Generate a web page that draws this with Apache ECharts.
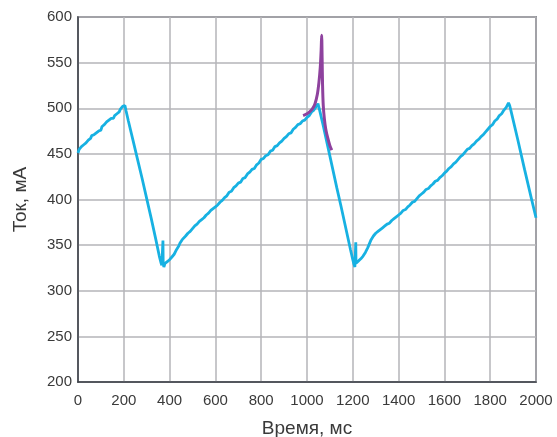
<!DOCTYPE html>
<html><head><meta charset="utf-8">
<script src="https://cdn.jsdelivr.net/npm/echarts@6/dist/echarts.min.js"></script>
<style>html,body{margin:0;padding:0;background:#fff}#c{width:557px;height:437px}</style>
</head><body><div id="c"></div>
<script>
const xTicks = [0,200,400,600,800,1000,1200,1400,1600,1800,2000];
const yTicks = [200,250,300,350,400,450,500,550,600];
// cyan trace: [time ms, current mA]
const cyan = [
[0,451],[5,455],[10,454],[15,458],[20,456],[25,460],[30,459],[35,462],[40,461],[45,465],[50,463],[55,467],[60,470],[65,468],[70,471],[75,470],[80,473],[85,472],[90,475],[95,477],[100,476],[105,480],[110,479],[115,482],[120,481],[125,485],[130,484],[135,487],[140,486],[145,489],[150,490],[155,489],[160,492],[165,491],[170,494],[175,495],[180,496],[185,499],[190,500],[195,502],[200,504],[203,501],[205,503],
[210,497],[220,486],[240,465],[260,444],[280,423],[300,401],[320,379],[340,356],[355,338],[362,331],[366,328],[370,327],[371,355],[372,330],[375,326],
[380,330],[385,328],[390,332],[395,330],[400,334],[405,333],[410,337],[415,336],[420,340],[425,342],[430,345],[435,347],[440,349],[445,352],[450,353],[455,356],[460,357],[470,360],[480,363],[490,365],[500,368],[510,371],[520,373],[530,376],[540,378],[550,380],[560,383],[570,385],[580,388],[590,390],[600,392],
[610,394],[620,397],[630,399],[640,402],[650,404],[660,408],[670,409],[680,413],[690,415],[700,418],[710,419],[720,423],[730,424],[740,428],[750,430],[760,433],[770,434],[780,438],[790,440],[800,444],[810,445],[820,448],[830,449],[840,453],[850,454],[860,458],[870,459],[880,462],[890,464],[900,467],[910,469],[920,472],[930,473],[940,477],[950,479],[960,482],[970,483],[980,486],[990,487],[1000,490],[1010,492],[1020,496],[1030,498],[1040,502],[1048,505],
[1055,498],[1070,482],[1090,459],[1110,436],[1130,413],[1150,391],[1170,368],[1190,345],[1200,334],[1205,329],[1209,326],[1212,328],[1213,353],[1214,330],
[1218,331],[1222,329],[1226,333],[1230,332],[1235,335],[1240,336],[1245,338],[1250,339],[1255,342],[1260,344],[1265,347],[1270,350],[1275,353],[1280,356],[1285,358],[1290,360],[1295,362],[1300,363],[1305,364],[1310,365],[1320,367],[1330,369],[1340,371],[1350,373],[1360,374],[1370,377],[1380,379],[1390,381],[1400,383],[1410,385],[1420,388],[1430,389],[1440,392],[1450,394],[1460,397],[1470,398],[1480,401],[1490,404],[1500,406],[1510,408],[1520,411],[1530,412],[1540,415],[1550,417],
[1560,420],[1570,421],[1580,424],[1590,426],[1600,429],[1610,431],[1620,434],[1630,436],[1640,439],[1650,441],[1660,444],[1670,447],[1680,449],[1690,452],[1700,455],[1710,456],[1720,459],[1730,461],[1740,464],[1750,466],[1760,469],[1770,471],[1780,474],[1790,477],[1800,480],[1810,482],[1820,486],[1830,488],[1840,492],[1850,494],[1860,498],[1870,501],[1880,506],[1885,503],
[1890,498],[1920,466],[1950,433],[1980,401],[2000,380]
];
// purple trace: [time ms, current mA]
const purple = [[983,492],[1000,494],[1015,497],[1025,500],[1035,505],[1045,515],[1052,528],[1058,545],[1062,565],[1064,580],[1066,555],[1068,525],[1071,503],[1076,488],[1082,477],[1090,468],[1100,459],[1108,454]];

const chart = echarts.init(document.getElementById('c'), null, {renderer:'canvas'});
const font = 'Liberation Sans, Arial, sans-serif';
chart.setOption({
  animation:false,
  grid:{left:78,right:21,top:17,bottom:55,containLabel:false,outerBoundsMode:'none',show:true,borderColor:'#3b3f47',borderWidth:1.5,backgroundColor:'transparent'},
  xAxis:{type:'value',min:0,max:2000,interval:200,
    name:'Время, мс',nameLocation:'middle',nameGap:37,
    nameTextStyle:{fontSize:19,color:'#3a3a3a',fontFamily:font},
    axisLine:{show:true,lineStyle:{color:'#3b3f47',width:1.5}},
    axisTick:{show:false},
    axisLabel:{fontSize:15,color:'#3a3a3a',fontFamily:font,margin:11,formatter:v=>String(v)},
    splitLine:{show:true,lineStyle:{color:'#b4b4b8',width:1.5}}},
  yAxis:{type:'value',min:200,max:600,interval:50,
    name:'Ток, мА',nameLocation:'middle',nameGap:48,
    nameTextStyle:{fontSize:19,color:'#3a3a3a',fontFamily:font},
    axisLine:{show:true,lineStyle:{color:'#3b3f47',width:1.5}},
    axisTick:{show:false},
    axisLabel:{fontSize:15,color:'#3a3a3a',fontFamily:font,margin:6,formatter:v=>String(v)},
    splitLine:{show:true,lineStyle:{color:'#b4b4b8',width:1.5}}},
  series:[
    {type:'line',data:cyan,showSymbol:false,lineStyle:{color:'#17b1e2',width:2.8},z:2},
    {type:'line',data:purple,showSymbol:false,smooth:0.3,lineStyle:{color:'#8e429e',width:3},z:3}
  ]
});
</script></body></html>
